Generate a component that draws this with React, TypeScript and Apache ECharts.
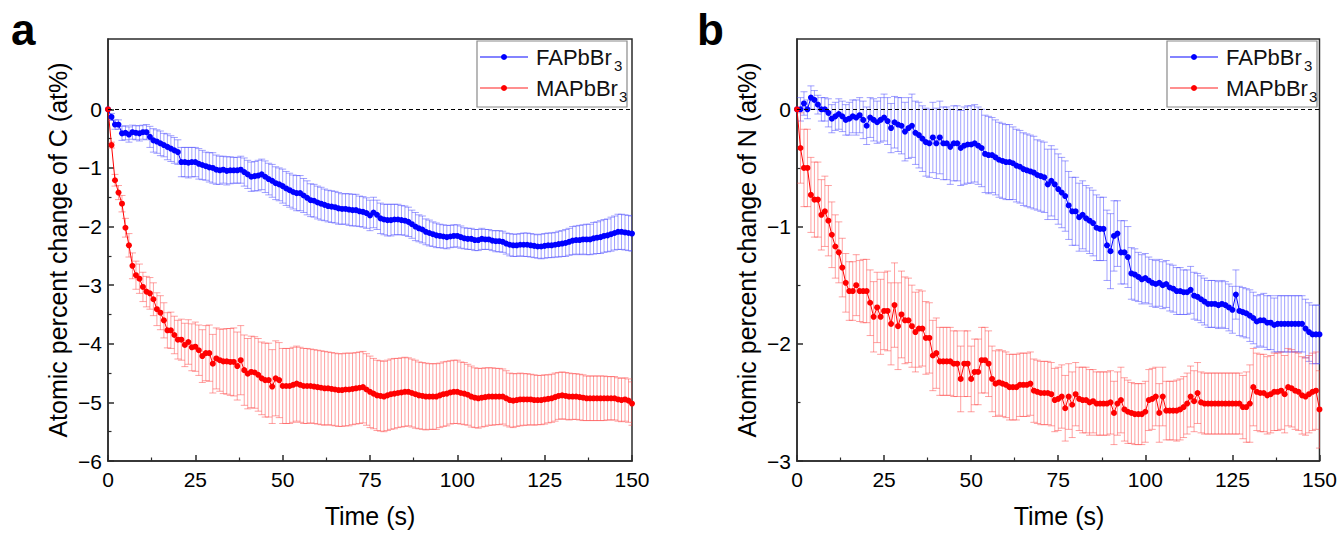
import React, { useEffect, useRef } from "react";
import * as echarts from "echarts";

const FONT = 'Arial, "Liberation Sans", Helvetica, sans-serif';

// time axis: one sample per second, 0..150 s
const TIME_STEP = 1;

// ---------- Panel a: atomic percent change of C ----------
const FA_C = [
  0, -0.13, -0.26, -0.26, -0.41, -0.40, -0.43, -0.39, -0.40, -0.41,
  -0.39, -0.39, -0.47, -0.53, -0.55, -0.58, -0.61, -0.64, -0.67, -0.70,
  -0.73, -0.90, -0.90, -0.91, -0.90, -0.90, -0.93, -0.95, -0.97, -0.99,
  -1.00, -1.03, -1.04, -1.03, -1.05, -1.04, -1.04, -1.04, -1.03, -1.07,
  -1.11, -1.15, -1.14, -1.13, -1.11, -1.15, -1.19, -1.22, -1.26, -1.28,
  -1.31, -1.35, -1.38, -1.41, -1.43, -1.43, -1.47, -1.51, -1.55, -1.56,
  -1.59, -1.61, -1.63, -1.65, -1.66, -1.67, -1.69, -1.70, -1.70, -1.71,
  -1.72, -1.72, -1.74, -1.75, -1.77, -1.81, -1.76, -1.80, -1.86, -1.88,
  -1.89, -1.89, -1.88, -1.88, -1.89, -1.90, -1.92, -1.96, -2.00, -2.03,
  -2.05, -2.09, -2.11, -2.13, -2.15, -2.16, -2.17, -2.18, -2.17, -2.16,
  -2.16, -2.18, -2.20, -2.21, -2.21, -2.23, -2.23, -2.21, -2.22, -2.22,
  -2.24, -2.25, -2.25, -2.26, -2.29, -2.31, -2.32, -2.32, -2.31, -2.31,
  -2.31, -2.32, -2.33, -2.34, -2.34, -2.33, -2.32, -2.32, -2.31, -2.30,
  -2.29, -2.28, -2.26, -2.24, -2.23, -2.23, -2.22, -2.22, -2.22, -2.20,
  -2.19, -2.18, -2.16, -2.15, -2.13, -2.11, -2.09, -2.09, -2.10, -2.11,
  -2.12,
];
const FA_C_ERR = [
  0, 0.06, 0.08, 0.08, 0.12, 0.12, 0.13, 0.12, 0.12, 0.13,
  0.12, 0.13, 0.18, 0.20, 0.20, 0.21, 0.20, 0.22, 0.22, 0.22,
  0.21, 0.25, 0.25, 0.26, 0.25, 0.25, 0.26, 0.25, 0.24, 0.25,
  0.26, 0.25, 0.24, 0.23, 0.24, 0.23, 0.22, 0.22, 0.23, 0.24,
  0.24, 0.25, 0.25, 0.26, 0.26, 0.27, 0.27, 0.28, 0.28, 0.28,
  0.29, 0.29, 0.29, 0.29, 0.30, 0.30, 0.29, 0.29, 0.28, 0.28,
  0.28, 0.28, 0.27, 0.27, 0.27, 0.27, 0.27, 0.26, 0.26, 0.27,
  0.27, 0.27, 0.26, 0.26, 0.26, 0.26, 0.26, 0.25, 0.26, 0.26,
  0.27, 0.27, 0.26, 0.26, 0.25, 0.25, 0.25, 0.24, 0.24, 0.23,
  0.23, 0.22, 0.22, 0.21, 0.21, 0.20, 0.20, 0.20, 0.19, 0.19,
  0.19, 0.19, 0.18, 0.18, 0.18, 0.18, 0.18, 0.18, 0.17, 0.17,
  0.17, 0.18, 0.18, 0.18, 0.18, 0.19, 0.19, 0.19, 0.19, 0.20,
  0.20, 0.20, 0.20, 0.20, 0.21, 0.21, 0.21, 0.21, 0.21, 0.22,
  0.22, 0.23, 0.23, 0.24, 0.24, 0.25, 0.25, 0.26, 0.26, 0.27,
  0.27, 0.28, 0.28, 0.28, 0.29, 0.29, 0.30, 0.30, 0.30, 0.30,
  0.30,
];
const MA_C = [
  0, -0.61, -1.21, -1.42, -1.61, -2.02, -2.32, -2.67, -2.83, -2.89,
  -3.03, -3.11, -3.14, -3.24, -3.41, -3.47, -3.60, -3.77, -3.77, -3.85,
  -3.93, -3.93, -4.02, -3.97, -4.06, -4.05, -4.11, -4.21, -4.16, -4.16,
  -4.34, -4.25, -4.28, -4.30, -4.30, -4.31, -4.31, -4.38, -4.28, -4.45,
  -4.51, -4.48, -4.49, -4.53, -4.59, -4.62, -4.62, -4.73, -4.59, -4.62,
  -4.72, -4.72, -4.72, -4.70, -4.68, -4.70, -4.72, -4.72, -4.72, -4.73,
  -4.74, -4.75, -4.76, -4.76, -4.77, -4.78, -4.79, -4.79, -4.78, -4.78,
  -4.77, -4.76, -4.75, -4.74, -4.78, -4.82, -4.85, -4.88, -4.89, -4.90,
  -4.88, -4.86, -4.85, -4.84, -4.83, -4.82, -4.82, -4.84, -4.86, -4.88,
  -4.89, -4.90, -4.90, -4.90, -4.90, -4.88, -4.86, -4.85, -4.83, -4.82,
  -4.82, -4.84, -4.85, -4.87, -4.90, -4.92, -4.93, -4.92, -4.91, -4.90,
  -4.90, -4.90, -4.90, -4.90, -4.93, -4.96, -4.97, -4.96, -4.95, -4.95,
  -4.95, -4.95, -4.96, -4.96, -4.96, -4.95, -4.94, -4.93, -4.91, -4.89,
  -4.88, -4.89, -4.90, -4.90, -4.90, -4.91, -4.92, -4.93, -4.93, -4.93,
  -4.93, -4.93, -4.93, -4.93, -4.93, -4.93, -4.95, -4.96, -4.95, -4.97,
  -5.02,
];
const MA_C_ERR = [
  0, 0.05, 0.10, 0.12, 0.14, 0.16, 0.20, 0.22, 0.24, 0.25,
  0.25, 0.26, 0.27, 0.28, 0.28, 0.29, 0.30, 0.30, 0.31, 0.32,
  0.33, 0.35, 0.37, 0.38, 0.40, 0.42, 0.43, 0.45, 0.47, 0.48,
  0.50, 0.52, 0.53, 0.55, 0.56, 0.57, 0.58, 0.58, 0.59, 0.60,
  0.60, 0.61, 0.61, 0.62, 0.62, 0.63, 0.63, 0.63, 0.64, 0.64,
  0.64, 0.64, 0.64, 0.64, 0.64, 0.64, 0.64, 0.64, 0.63, 0.63,
  0.63, 0.63, 0.63, 0.62, 0.62, 0.62, 0.62, 0.62, 0.62, 0.62,
  0.61, 0.61, 0.61, 0.61, 0.61, 0.61, 0.60, 0.60, 0.60, 0.60,
  0.60, 0.60, 0.60, 0.59, 0.59, 0.59, 0.58, 0.58, 0.58, 0.57,
  0.57, 0.57, 0.56, 0.56, 0.56, 0.55, 0.55, 0.55, 0.54, 0.54,
  0.54, 0.53, 0.53, 0.52, 0.52, 0.51, 0.51, 0.50, 0.50, 0.49,
  0.49, 0.48, 0.48, 0.47, 0.47, 0.46, 0.46, 0.45, 0.45, 0.44,
  0.44, 0.43, 0.43, 0.42, 0.42, 0.42, 0.41, 0.41, 0.41, 0.40,
  0.40, 0.40, 0.40, 0.39, 0.39, 0.39, 0.39, 0.38, 0.38, 0.38,
  0.38, 0.38, 0.38, 0.37, 0.37, 0.37, 0.37, 0.37, 0.37, 0.37,
  0.37,
];

// ---------- Panel b: atomic percent change of N ----------
const FA_N = [
  0, 0.00, 0.05, 0.00, 0.10, 0.08, 0.04, 0.00, 0.00, -0.03,
  -0.08, -0.06, -0.04, -0.06, -0.09, -0.08, -0.06, -0.07, -0.05, -0.09,
  -0.14, -0.07, -0.09, -0.11, -0.09, -0.07, -0.10, -0.16, -0.11, -0.13,
  -0.14, -0.19, -0.16, -0.14, -0.20, -0.22, -0.25, -0.28, -0.29, -0.24,
  -0.29, -0.24, -0.29, -0.29, -0.32, -0.29, -0.29, -0.33, -0.31, -0.30,
  -0.30, -0.29, -0.31, -0.33, -0.38, -0.39, -0.39, -0.41, -0.43, -0.44,
  -0.45, -0.45, -0.46, -0.48, -0.49, -0.51, -0.52, -0.53, -0.54, -0.56,
  -0.57, -0.58, -0.64, -0.61, -0.64, -0.68, -0.71, -0.74, -0.82, -0.87,
  -0.87, -0.92, -0.90, -0.93, -0.95, -0.97, -1.01, -1.02, -1.02, -1.16,
  -1.21, -1.08, -1.06, -1.22, -1.22, -1.26, -1.40, -1.41, -1.43, -1.45,
  -1.44, -1.46, -1.48, -1.49, -1.48, -1.50, -1.49, -1.52, -1.53, -1.55,
  -1.55, -1.56, -1.56, -1.54, -1.59, -1.60, -1.62, -1.64, -1.66, -1.66,
  -1.66, -1.67, -1.66, -1.67, -1.69, -1.71, -1.58, -1.72, -1.73, -1.74,
  -1.76, -1.78, -1.81, -1.80, -1.80, -1.82, -1.82, -1.84, -1.83, -1.83,
  -1.83, -1.83, -1.83, -1.83, -1.83, -1.83, -1.87, -1.90, -1.92, -1.92,
  -1.92,
];
const FA_N_ERR = [
  0, 0.10, 0.10, 0.08, 0.10, 0.08, 0.08, 0.10, 0.10, 0.12,
  0.12, 0.12, 0.13, 0.13, 0.13, 0.14, 0.14, 0.15, 0.15, 0.16,
  0.16, 0.17, 0.18, 0.18, 0.19, 0.20, 0.20, 0.21, 0.22, 0.23,
  0.24, 0.25, 0.26, 0.27, 0.27, 0.28, 0.28, 0.29, 0.29, 0.30,
  0.30, 0.31, 0.31, 0.31, 0.32, 0.32, 0.32, 0.32, 0.33, 0.33,
  0.33, 0.33, 0.33, 0.33, 0.33, 0.33, 0.32, 0.32, 0.32, 0.32,
  0.32, 0.32, 0.31, 0.31, 0.31, 0.31, 0.31, 0.31, 0.31, 0.30,
  0.30, 0.30, 0.30, 0.30, 0.30, 0.30, 0.30, 0.30, 0.29, 0.29,
  0.29, 0.29, 0.29, 0.28, 0.28, 0.28, 0.28, 0.27, 0.27, 0.30,
  0.32, 0.30, 0.28, 0.27, 0.27, 0.26, 0.22, 0.22, 0.21, 0.21,
  0.21, 0.20, 0.20, 0.20, 0.20, 0.20, 0.20, 0.20, 0.20, 0.20,
  0.20, 0.19, 0.19, 0.20, 0.20, 0.20, 0.20, 0.20, 0.20, 0.20,
  0.20, 0.20, 0.20, 0.20, 0.20, 0.20, 0.21, 0.21, 0.21, 0.21,
  0.22, 0.22, 0.22, 0.22, 0.23, 0.23, 0.23, 0.23, 0.24, 0.24,
  0.24, 0.24, 0.24, 0.24, 0.24, 0.24, 0.25, 0.25, 0.25, 0.25,
  0.25,
];
const MA_N = [
  0, -0.33, -0.50, -0.50, -0.73, -0.77, -0.77, -0.90, -0.87, -0.95,
  -1.07, -1.17, -1.22, -1.35, -1.48, -1.55, -1.55, -1.50, -1.55, -1.55,
  -1.55, -1.65, -1.77, -1.69, -1.77, -1.72, -1.72, -1.83, -1.67, -1.85,
  -1.75, -1.80, -1.80, -1.85, -1.90, -1.87, -1.87, -1.95, -1.95, -2.10,
  -2.08, -2.15, -2.15, -2.15, -2.15, -2.17, -2.17, -2.30, -2.17, -2.17,
  -2.30, -2.24, -2.24, -2.14, -2.14, -2.17, -2.30, -2.34, -2.33, -2.34,
  -2.35, -2.37, -2.37, -2.37, -2.35, -2.35, -2.35, -2.34, -2.40, -2.41,
  -2.42, -2.42, -2.42, -2.43, -2.48, -2.47, -2.45, -2.55, -2.45, -2.52,
  -2.43, -2.47, -2.48, -2.48, -2.50, -2.49, -2.51, -2.51, -2.51, -2.51,
  -2.50, -2.59, -2.51, -2.48, -2.56, -2.58, -2.59, -2.60, -2.60, -2.60,
  -2.58, -2.48, -2.47, -2.45, -2.59, -2.45, -2.57, -2.57, -2.57, -2.57,
  -2.56, -2.54, -2.51, -2.45, -2.49, -2.42, -2.50, -2.51, -2.51, -2.51,
  -2.51, -2.51, -2.51, -2.51, -2.51, -2.51, -2.51, -2.51, -2.54, -2.54,
  -2.51, -2.37, -2.41, -2.42, -2.42, -2.44, -2.43, -2.41, -2.41, -2.40,
  -2.43, -2.37, -2.38, -2.40, -2.41, -2.44, -2.45, -2.43, -2.41, -2.40,
  -2.56,
];
const MA_N_ERR = [
  0, 0.30, 0.33, 0.33, 0.32, 0.32, 0.32, 0.30, 0.30, 0.30,
  0.28, 0.27, 0.26, 0.25, 0.25, 0.25, 0.25, 0.26, 0.26, 0.27,
  0.27, 0.28, 0.30, 0.30, 0.32, 0.33, 0.34, 0.35, 0.36, 0.37,
  0.37, 0.37, 0.36, 0.35, 0.34, 0.33, 0.32, 0.31, 0.30, 0.30,
  0.30, 0.29, 0.29, 0.29, 0.29, 0.28, 0.28, 0.28, 0.28, 0.28,
  0.28, 0.28, 0.28, 0.28, 0.28, 0.28, 0.28, 0.28, 0.28, 0.28,
  0.28, 0.28, 0.28, 0.28, 0.27, 0.27, 0.27, 0.27, 0.27, 0.27,
  0.27, 0.27, 0.27, 0.27, 0.27, 0.27, 0.27, 0.28, 0.28, 0.28,
  0.27, 0.27, 0.28, 0.28, 0.28, 0.27, 0.27, 0.27, 0.27, 0.27,
  0.27, 0.27, 0.27, 0.28, 0.27, 0.27, 0.26, 0.26, 0.26, 0.26,
  0.26, 0.26, 0.26, 0.25, 0.25, 0.25, 0.25, 0.25, 0.25, 0.26,
  0.26, 0.26, 0.26, 0.26, 0.26, 0.26, 0.26, 0.26, 0.26, 0.26,
  0.26, 0.26, 0.26, 0.26, 0.26, 0.26, 0.26, 0.26, 0.27, 0.30,
  0.33, 0.33, 0.33, 0.33, 0.33, 0.33, 0.33, 0.33, 0.33, 0.33,
  0.33, 0.33, 0.33, 0.33, 0.33, 0.33, 0.33, 0.33, 0.33, 0.33,
  0.33,
];

// axis tick definitions
const X_TICKS_STEP = 25;
const C_MAJOR = [0, -1, -2, -3, -4, -5, -6];
const C_MINOR = [-0.5, -1.5, -2.5, -3.5, -4.5, -5.5];
const N_MAJOR = [0, -1, -2, -3];
const N_MINOR = [-0.5, -1.5, -2.5];

const SERIES_NAMES = ["FAPbBr", "MAPbBr"]; // subscript "3" added in legend
const SUBSCRIPT = "3";
const Y_TITLES = ["Atomic percent change of C (at%)", "Atomic percent change of N (at%)"];
const X_TITLE = "Time (s)";
const PANEL_LABELS = ["a", "b"];

const BLUE = "#0000ff";
const RED = "#ff0000";
const BLUE_ERR = "rgba(70,70,255,0.5)";
const RED_ERR = "rgba(255,70,70,0.5)";
const AXIS_COLOR = "#2b2b2b";

const LEGEND_FONT = 22;
// Arial / Liberation Sans advance widths (em) of the legend names
const NAME_EM = [3.501, 3.723];

const fmtMinus = (v: number) => (v < 0 ? "\u2212" + Math.abs(v) : String(v));

function pairs(vals: number[]) {
  return vals.map((v, i) => [i * TIME_STEP, v]);
}
function triples(vals: number[], errs: number[]) {
  return vals.map((v, i) => [i * TIME_STEP, v, errs[i]]);
}

function errSeries(xi: number, yi: number, vals: number[], errs: number[], color: string) {
  return {
    type: "custom",
    xAxisIndex: xi,
    yAxisIndex: yi,
    silent: true,
    clip: true,
    z: 2,
    encode: { x: 0, y: 1 },
    data: triples(vals, errs),
    renderItem: (params: any, api: any) => {
      const x = api.value(0);
      const y = api.value(1);
      const e = api.value(2);
      if (!e) return null;
      const t = api.coord([x, y + e]);
      const b = api.coord([x, y - e]);
      const w = 3.5;
      const st = { stroke: color, lineWidth: 1 };
      return {
        type: "group",
        children: [
          { type: "line", shape: { x1: t[0], y1: t[1], x2: b[0], y2: b[1] }, style: st },
          { type: "line", shape: { x1: t[0] - w, y1: t[1], x2: t[0] + w, y2: t[1] }, style: st },
          { type: "line", shape: { x1: b[0] - w, y1: b[1], x2: b[0] + w, y2: b[1] }, style: st },
        ],
      };
    },
  };
}

function lineSeries(name: string, xi: number, yi: number, vals: number[], color: string, withZero: boolean) {
  const s: any = {
    name,
    type: "line",
    xAxisIndex: xi,
    yAxisIndex: yi,
    data: pairs(vals),
    symbol: "circle",
    symbolSize: 6,
    showSymbol: true,
    z: 3,
    lineStyle: { color, width: 1 },
    itemStyle: { color },
    emphasis: { disabled: true },
  };
  if (withZero) {
    s.markLine = {
      silent: true,
      symbol: ["none", "none"],
      label: { show: false },
      lineStyle: { type: [4, 3], color: "#000", width: 1 },
      data: [{ yAxis: 0 }],
    };
  }
  return s;
}

function xAxisCfg(gi: number) {
  return {
    type: "value",
    gridIndex: gi,
    min: 0,
    max: 150,
    interval: X_TICKS_STEP,
    axisLine: { show: true, onZero: false, lineStyle: { color: AXIS_COLOR, width: 1.5 } },
    axisTick: { show: true, inside: true, length: 6, lineStyle: { color: AXIS_COLOR, width: 1.5 } },
    minorTick: { show: true, splitNumber: 2, length: 3.5, lineStyle: { color: AXIS_COLOR, width: 1.2 } },
    splitLine: { show: false },
    minorSplitLine: { show: false },
    axisLabel: { fontSize: 21, color: "#000", margin: 8, fontFamily: FONT },
  };
}

function yMajorCfg(gi: number, min: number, max: number, ticks: number[]) {
  return {
    type: "value",
    gridIndex: gi,
    min,
    max,
    position: "left",
    axisLine: { show: true, onZero: false, lineStyle: { color: AXIS_COLOR, width: 1.5 } },
    axisTick: { show: true, inside: true, length: 6, customValues: ticks, lineStyle: { color: AXIS_COLOR, width: 1.5 } },
    splitLine: { show: false },
    axisLabel: { fontSize: 21, color: "#000", margin: 6, customValues: ticks, formatter: fmtMinus, fontFamily: FONT },
  };
}
function yMinorCfg(gi: number, min: number, max: number, ticks: number[]) {
  return {
    type: "value",
    gridIndex: gi,
    min,
    max,
    position: "left",
    offset: 0,
    axisLine: { show: false },
    axisTick: { show: true, inside: true, length: 3.5, customValues: ticks, lineStyle: { color: AXIS_COLOR, width: 1.2 } },
    splitLine: { show: false },
    axisLabel: { show: false },
  };
}

function legendGraphic(bx: number, by: number) {
  const els: any[] = [];
  els.push({
    type: "rect",
    shape: { x: bx, y: by, width: 150, height: 66 },
    style: { fill: "#fff", stroke: "#8a8a8a", lineWidth: 1.2 },
    z: 100,
  });
  const rows = [
    { idx: 0, color: BLUE, lineColor: "#5a5aff", cy: by + 16 },
    { idx: 1, color: RED, lineColor: "#ff6a6a", cy: by + 47 },
  ];
  rows.forEach((r) => {
    const tx = bx + 59;
    els.push({
      type: "line",
      shape: { x1: bx + 3, y1: r.cy, x2: bx + 51, y2: r.cy },
      style: { stroke: r.lineColor, lineWidth: 1.5 },
      z: 101,
    });
    els.push({ type: "circle", shape: { cx: bx + 27, cy: r.cy, r: 3 }, style: { fill: r.color }, z: 102 });
    els.push({
      type: "text",
      x: tx,
      y: r.cy,
      style: { text: SERIES_NAMES[r.idx], fontSize: LEGEND_FONT, fontFamily: FONT, fill: "#111", verticalAlign: "middle", align: "left" },
      z: 102,
    });
    els.push({
      type: "text",
      x: tx + NAME_EM[r.idx] * LEGEND_FONT + 1,
      y: r.cy + 8,
      style: { text: SUBSCRIPT, fontSize: 15, fontFamily: FONT, fill: "#111", verticalAlign: "middle", align: "left" },
      z: 102,
    });
  });
  return els;
}

export default function App() {
  const ref = useRef<HTMLDivElement>(null);

  useEffect(() => {
    if (!ref.current) return;
    const chart = echarts.init(ref.current, undefined, { renderer: "svg" });

    const grids = [
      { left: 108, top: 39, width: 524, height: 422 },
      { left: 797, top: 39, width: 525, height: 422 },
    ];

    const option: any = {
      animation: false,
      backgroundColor: "#fff",
      textStyle: { fontFamily: FONT },
      grid: grids.map((g) => ({
        ...g,
        show: true,
        borderColor: AXIS_COLOR,
        borderWidth: 1.5,
        backgroundColor: "transparent",
        containLabel: false,
      })),
      xAxis: [xAxisCfg(0), xAxisCfg(1)],
      yAxis: [
        yMajorCfg(0, -6, 1.2, C_MAJOR),
        yMinorCfg(0, -6, 1.2, C_MINOR),
        yMajorCfg(1, -3, 0.6, N_MAJOR),
        yMinorCfg(1, -3, 0.6, N_MINOR),
      ],
      series: [
        errSeries(0, 0, FA_C, FA_C_ERR, BLUE_ERR),
        errSeries(0, 0, MA_C, MA_C_ERR, RED_ERR),
        lineSeries(SERIES_NAMES[0] + SUBSCRIPT, 0, 0, FA_C, BLUE, true),
        lineSeries(SERIES_NAMES[1] + SUBSCRIPT, 0, 0, MA_C, RED, false),
        errSeries(1, 2, FA_N, FA_N_ERR, BLUE_ERR),
        errSeries(1, 2, MA_N, MA_N_ERR, RED_ERR),
        lineSeries(SERIES_NAMES[0] + SUBSCRIPT + " (N)", 1, 2, FA_N, BLUE, true),
        lineSeries(SERIES_NAMES[1] + SUBSCRIPT + " (N)", 1, 2, MA_N, RED, false),
      ],
      graphic: [
        {
          type: "text",
          x: 11,
          y: 29,
          style: { text: PANEL_LABELS[0], fontSize: 44, fontWeight: "bold", fontFamily: FONT, fill: "#000", verticalAlign: "middle" },
        },
        {
          type: "text",
          x: 697,
          y: 29,
          style: { text: PANEL_LABELS[1], fontSize: 44, fontWeight: "bold", fontFamily: FONT, fill: "#000", verticalAlign: "middle" },
        },
        {
          type: "text",
          x: 58,
          y: 250,
          rotation: Math.PI / 2,
          style: { text: Y_TITLES[0], fontSize: 25, fontFamily: FONT, fill: "#000", align: "center", verticalAlign: "middle" },
        },
        {
          type: "text",
          x: 747,
          y: 250,
          rotation: Math.PI / 2,
          style: { text: Y_TITLES[1], fontSize: 25, fontFamily: FONT, fill: "#000", align: "center", verticalAlign: "middle" },
        },
        {
          type: "text",
          x: 370,
          y: 516,
          style: { text: X_TITLE, fontSize: 25, fontFamily: FONT, fill: "#000", align: "center", verticalAlign: "middle" },
        },
        {
          type: "text",
          x: 1059,
          y: 516,
          style: { text: X_TITLE, fontSize: 25, fontFamily: FONT, fill: "#000", align: "center", verticalAlign: "middle" },
        },
        ...legendGraphic(477, 41),
        ...legendGraphic(1167, 41),
      ],
    };

    chart.setOption(option);
    return () => chart.dispose();
  }, []);

  return (
    <div
      ref={ref}
      style={{ position: "absolute", left: 0, top: 0, width: 1340, height: 533, background: "#fff" }}
    />
  );
}
